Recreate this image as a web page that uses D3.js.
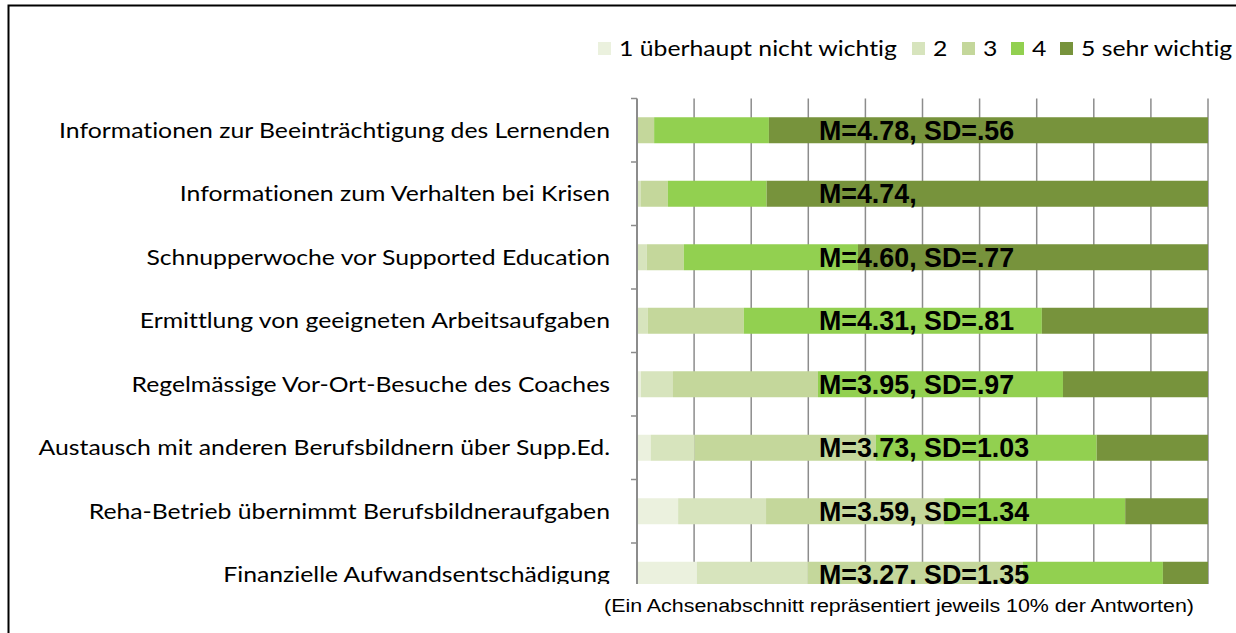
<!DOCTYPE html>
<html>
<head>
<meta charset="utf-8">
<script src="https://cdn.jsdelivr.net/npm/d3@7"></script>
<style>
  body { margin: 0; background: #fff; overflow: hidden; }
  text { font-variant-ligatures: none; }
</style>
</head>
<body>
<script>
const categories = [
    "Informationen zur Beeinträchtigung des Lernenden",
    "Informationen zum Verhalten bei Krisen",
    "Schnupperwoche vor Supported Education",
    "Ermittlung von geeigneten Arbeitsaufgaben",
    "Regelmässige Vor-Ort-Besuche des Coaches",
    "Austausch mit anderen Berufsbildnern über Supp.Ed.",
    "Reha-Betrieb übernimmt Berufsbildneraufgaben",
    "Finanzielle Aufwandsentschädigung"
];
const seriesNames = ["1 überhaupt nicht wichtig", "2", "3", "4", "5 sehr wichtig"];
// percent of answers per rating
const rating1 = [0, 0, 0, 0, 0.7, 2.4, 7.2, 10.5];
const rating2 = [0, 0.7, 1.7, 1.9, 5.6, 7.7, 15.4, 19.4];
const rating3 = [3.0, 4.7, 6.5, 16.8, 25.4, 31.7, 31.2, 37.7];
const rating4 = [20.1, 17.3, 30.5, 52.2, 42.9, 38.7, 31.7, 24.5];
const rating5 = [76.9, 77.3, 61.3, 29.1, 25.4, 19.5, 14.5, 7.9];
const meanLabels = [
    "M=4.78, SD=.56", "M=4.74,", "M=4.60, SD=.77", "M=4.31, SD=.81",
    "M=3.95, SD=.97", "M=3.73, SD=1.03", "M=3.59, SD=1.34", "M=3.27, SD=1.35"
];
const xTicks = [0, 10, 20, 30, 40, 50, 60, 70, 80, 90, 100];
const note = "(Ein Achsenabschnitt repräsentiert jeweils 10% der Antworten)";

const colors = ["#EBF1DE", "#D7E4BD", "#C4D79B", "#92D050", "#77933C"];

const width = 1236, height = 633;
const plot = {left: 637, right: 1208, top: 98.5, step: 63.5, barH: 26, clipBottom: 584};
// the picture is a little wider than tall, text gets stretched the same way
const stretch = 1.18;

const svg = d3.select("body").append("svg")
    .attr("width", width)
    .attr("height", height);

// frame
svg.append("path")
    .attr("d", "M8.5," + height + " V5.5 H" + width)
    .attr("fill", "none")
    .attr("stroke", "#000")
    .attr("stroke-width", 2);

svg.append("clipPath").attr("id", "cut")
    .append("rect").attr("x", 0).attr("y", 0).attr("width", width).attr("height", plot.clipBottom);

const rows = categories.map((c, i) => ({
    cat: c, r1: rating1[i], r2: rating2[i], r3: rating3[i], r4: rating4[i], r5: rating5[i]
}));
const keys = ["r1", "r2", "r3", "r4", "r5"];
const stacked = d3.stack().keys(keys)(rows);

const xScale = d3.scaleLinear().domain([0, 100]).range([plot.left, plot.right]);
const yScale = d3.scaleBand().domain(categories)
    .range([plot.top, plot.top + plot.step * categories.length])
    .padding(0);
const barOffset = (yScale.bandwidth() - plot.barH) / 2;

function place(x, y, sx) {
    return "translate(" + x + "," + y + ") scale(" + sx + ",1)";
}

const g = svg.append("g").attr("clip-path", "url(#cut)");

// vertical gridlines
g.append("g").attr("class", "grid")
    .selectAll("line").data(xTicks.slice(1)).enter().append("line")
    .attr("x1", (d) => xScale(d)).attr("x2", (d) => xScale(d))
    .attr("y1", plot.top).attr("y2", plot.clipBottom)
    .attr("stroke", "#8c8c8c")
    .attr("stroke-width", 1.5);

// bars
g.append("g").selectAll("g.series").data(stacked).enter().append("g")
    .attr("class", "series")
    .attr("fill", (d, i) => colors[i])
    .selectAll("rect").data((d) => d).enter().append("rect")
    .attr("x", (d) => xScale(d[0]))
    .attr("width", (d) => xScale(d[1]) - xScale(d[0]))
    .attr("y", (d) => yScale(d.data.cat) + barOffset)
    .attr("height", plot.barH);

// category axis with ticks at band boundaries
const yAxis = g.append("g").attr("class", "yaxis");
yAxis.append("line")
    .attr("x1", plot.left).attr("x2", plot.left)
    .attr("y1", plot.top).attr("y2", plot.clipBottom)
    .attr("stroke", "#8c8c8c").attr("stroke-width", 2);
yAxis.selectAll("line.tick").data(categories).enter().append("line")
    .attr("class", "tick")
    .attr("x1", plot.left - 6).attr("x2", plot.left)
    .attr("y1", (d) => yScale(d)).attr("y2", (d) => yScale(d))
    .attr("stroke", "#8c8c8c").attr("stroke-width", 1.5);

yAxis.selectAll("text").data(categories).enter().append("text")
    .attr("transform", (d) => place(610, yScale(d) + yScale.bandwidth() / 2, stretch))
    .attr("dy", "0.35em")
    .attr("text-anchor", "end")
    .style("font-family", "Lato, sans-serif")
    .style("font-size", "21px")
    .attr("fill", "#000")
    .text((d) => d);

// mean labels
g.append("g").selectAll("text").data(meanLabels).enter().append("text")
    .attr("x", 819)
    .attr("y", (d, i) => yScale(categories[i]) + yScale.bandwidth() / 2)
    .attr("dy", "0.36em")
    .style("font-family", '"Liberation Sans", Arial, sans-serif')
    .style("font-weight", "700")
    .style("font-size", "26.8px")
    .attr("fill", "#000")
    .text((d) => d);

// legend
const legendX = [598, 912, 962, 1011, 1060];
const legend = svg.append("g").attr("class", "legend");
legend.selectAll("rect").data(seriesNames).enter().append("rect")
    .attr("x", (d, i) => legendX[i]).attr("y", 42)
    .attr("width", 13).attr("height", 13)
    .attr("fill", (d, i) => colors[i]);
legend.selectAll("text").data(seriesNames).enter().append("text")
    .attr("transform", (d, i) => place(legendX[i] + 21, 49, stretch))
    .attr("dy", "0.35em")
    .style("font-family", "Lato, sans-serif")
    .style("font-size", "21px")
    .attr("fill", "#000")
    .text((d) => d);

svg.append("text")
    .attr("transform", place(899, 612, 1.19))
    .attr("text-anchor", "middle")
    .style("font-family", '"Liberation Sans", Arial, sans-serif')
    .style("font-size", "18px")
    .attr("fill", "#000")
    .text(note);
</script>
</body>
</html>
